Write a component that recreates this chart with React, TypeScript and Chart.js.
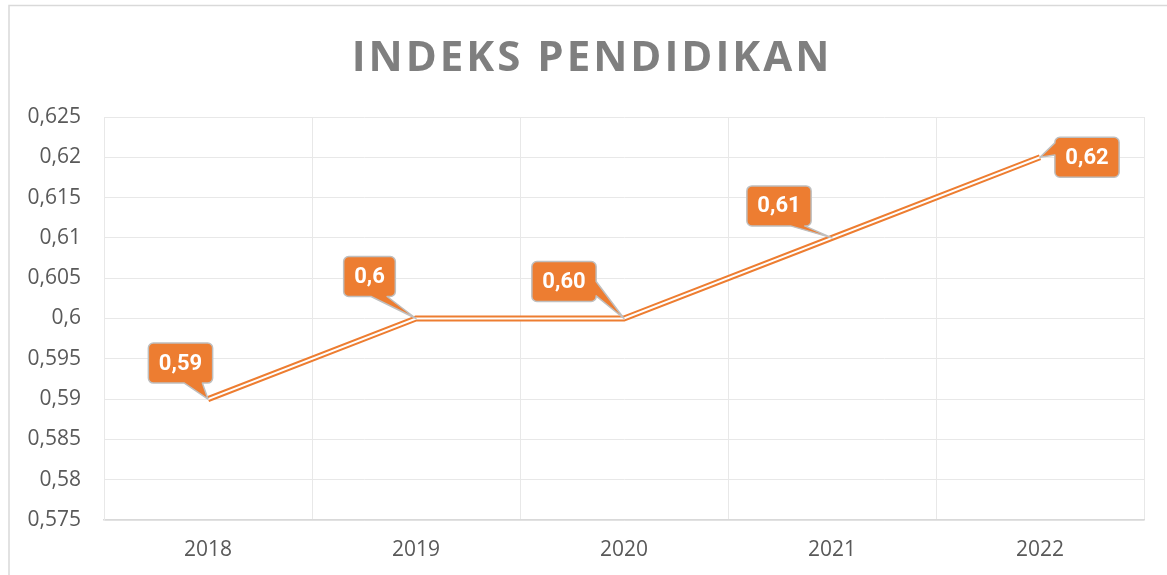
import React, { useEffect, useRef } from "react";
import { Chart, registerables } from "chart.js";

Chart.register(...registerables);

const chartTitle = "INDEKS PENDIDIKAN";
const years = ["2018", "2019", "2020", "2021", "2022"];
const indeksValues = [0.59, 0.6, 0.6, 0.61, 0.62];
const valueLabels = ["0,59", "0,6", "0,60", "0,61", "0,62"];
const yTicks = [0.575, 0.58, 0.585, 0.59, 0.595, 0.6, 0.605, 0.61, 0.615, 0.62, 0.625];

const ORANGE = "#ED7D31";

// callout styling: box-centre offset from its point, tail side and tail base fractions
const calloutStyle = [
  { dx: -27.5, dy: -36, side: "bottom", f1: 0.56, f2: 0.84 },
  { dx: -46.5, dy: -42, side: "bottom", f1: 0.53, f2: 0.84 },
  { dx: -60, dy: -37, side: "right", f1: 0.5, f2: 0.86 },
  { dx: -53, dy: -32, side: "bottom", f1: 0.68, f2: 0.9 },
  { dx: 47, dy: 0, side: "left", f1: 0.14, f2: 0.44 },
];

function fmt(v: number): string {
  return String(Number(v.toFixed(3))).replace(".", ",");
}

function calloutPath(
  ctx: CanvasRenderingContext2D,
  x: number, y: number, w: number, h: number, r: number,
  side: string, f1: number, f2: number, tx: number, ty: number
) {
  ctx.beginPath();
  ctx.moveTo(x + r, y);
  ctx.lineTo(x + w - r, y);
  ctx.arcTo(x + w, y, x + w, y + r, r);
  if (side === "right") {
    ctx.lineTo(x + w, y + h * f1);
    ctx.lineTo(tx, ty);
    ctx.lineTo(x + w, y + h * f2);
  }
  ctx.lineTo(x + w, y + h - r);
  ctx.arcTo(x + w, y + h, x + w - r, y + h, r);
  if (side === "bottom") {
    ctx.lineTo(x + w * f2, y + h);
    ctx.lineTo(tx, ty);
    ctx.lineTo(x + w * f1, y + h);
  }
  ctx.lineTo(x + r, y + h);
  ctx.arcTo(x, y + h, x, y + h - r, r);
  if (side === "left") {
    ctx.lineTo(x, y + h * f2);
    ctx.lineTo(tx, ty);
    ctx.lineTo(x, y + h * f1);
  }
  ctx.lineTo(x, y + r);
  ctx.arcTo(x, y, x + r, y, r);
  ctx.closePath();
}

const framePlugin = {
  id: "frameAndTitle",
  beforeDraw(chart: any) {
    const ctx = chart.ctx as CanvasRenderingContext2D;
    ctx.save();
    ctx.fillStyle = "#ffffff";
    ctx.fillRect(0, 0, chart.width, chart.height);
    ctx.strokeStyle = "#D9D9D9";
    ctx.lineWidth = 1.5;
    ctx.strokeRect(9, 5.5, chart.width + 20, chart.height + 20);
    ctx.fillStyle = "#7F7F7F";
    ctx.font = "bold 42px 'Open Sans'";
    (ctx as any).letterSpacing = "3px";
    ctx.textAlign = "center";
    ctx.textBaseline = "alphabetic";
    ctx.fillText(chartTitle, 592, 71);
    ctx.restore();
  },
};

const calloutPlugin = {
  id: "callouts",
  afterDatasetsDraw(chart: any) {
    const ctx = chart.ctx as CanvasRenderingContext2D;
    const meta = chart.getDatasetMeta(0);
    ctx.save();
    ctx.font = "bold 22px Roboto";
    meta.data.forEach((pt: any, i: number) => {
      const st = calloutStyle[i];
      const text = valueLabels[i];
      const tw = ctx.measureText(text).width;
      const w = tw + 21;
      const h = 40;
      const cx = pt.x + st.dx;
      const cy = pt.y + st.dy;
      const bx = cx - w / 2;
      const by = cy - h / 2;
      calloutPath(ctx, bx, by, w, h, 5, st.side, st.f1, st.f2, pt.x, pt.y);
      ctx.fillStyle = ORANGE;
      ctx.fill();
      ctx.strokeStyle = "#BFBFBF";
      ctx.lineWidth = 1.5;
      ctx.lineJoin = "round";
      ctx.stroke();
      ctx.fillStyle = "#ffffff";
      ctx.textAlign = "center";
      ctx.textBaseline = "middle";
      ctx.fillText(text, cx, cy + 1);
    });
    ctx.restore();
  },
};

export default function App() {
  const canvasRef = useRef<HTMLCanvasElement | null>(null);

  useEffect(() => {
    if (!canvasRef.current) return;
    const chart = new Chart(canvasRef.current, {
      type: "line",
      data: {
        labels: years,
        datasets: [
          {
            label: "Indeks Pendidikan",
            data: indeksValues,
            borderColor: ORANGE,
            borderWidth: 6,
            pointRadius: 0,
            pointHoverRadius: 0,
            borderJoinStyle: "miter",
            borderCapStyle: "butt",
            tension: 0,
            fill: false,
            order: 2,
          },
          {
            label: "inner",
            data: indeksValues,
            borderColor: "#ffffff",
            borderWidth: 2,
            pointRadius: 0,
            pointHoverRadius: 0,
            borderJoinStyle: "miter",
            borderCapStyle: "butt",
            tension: 0,
            fill: false,
            order: 1,
          },
        ],
      },
      options: {
        responsive: false,
        animation: false,
        events: [],
        layout: { padding: { left: 0, right: 23, top: 117, bottom: 0 } },
        plugins: {
          legend: { display: false },
          tooltip: { enabled: false },
          title: { display: false },
        },
        scales: {
          x: {
            offset: true,
            grid: { offset: true, color: "#E8E8E8", lineWidth: 1, drawTicks: false },
            border: { color: "#D9D9D9", width: 1.5 },
            ticks: {
              color: "#595959",
              font: { family: "'Open Sans'", size: 21 },
              padding: 17,
            },
            afterFit(scale: any) {
              scale.height = 55;
            },
          },
          y: {
            min: 0.575,
            max: 0.625,
            grid: { color: "#E8E8E8", lineWidth: 1, drawTicks: false },
            border: { color: "#E8E8E8", width: 1 },
            afterBuildTicks(scale: any) {
              scale.ticks = yTicks.map((v) => ({ value: v }));
            },
            ticks: {
              color: "#595959",
              font: { family: "'Open Sans'", size: 21 },
              padding: 23,
              callback: (v: any) => fmt(Number(v)),
            },
            afterFit(scale: any) {
              scale.width = 104;
            },
          },
        },
      },
      plugins: [framePlugin, calloutPlugin],
    });
    return () => chart.destroy();
  }, []);

  return (
    <div style={{ position: "absolute", left: 0, top: 0, width: 1167, height: 575 }}>
      <canvas ref={canvasRef} width={1167} height={575} />
    </div>
  );
}
